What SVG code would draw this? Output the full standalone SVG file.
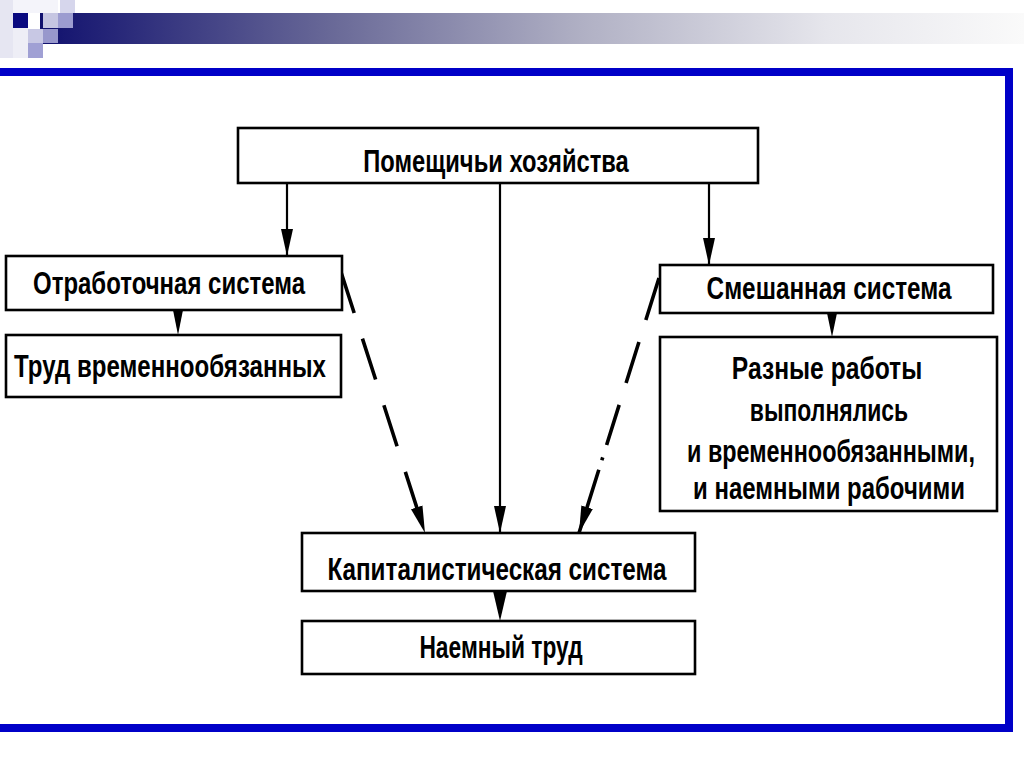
<svg xmlns="http://www.w3.org/2000/svg" width="1024" height="767" viewBox="0 0 1024 767">
<style>
.box{fill:#fff;stroke:#000;stroke-width:2.6}
.t{font-family:"Liberation Sans",Arial,sans-serif;font-size:32px;font-weight:bold;fill:#000;text-anchor:middle}
.c{stroke:#000;stroke-width:2.2;fill:none}
.d{stroke:#000;stroke-width:3.6;fill:none}
.h{fill:#000}
</style>
<defs>
<linearGradient id="bar" x1="0" y1="0" x2="1" y2="0">
<stop offset="0" stop-color="#10106e"/>
<stop offset="0.3" stop-color="#6a6a98"/>
<stop offset="0.55" stop-color="#b0b0c4"/>
<stop offset="0.8" stop-color="#e6e6ec"/>
<stop offset="1" stop-color="#fafafa"/>
</linearGradient>
<marker id="ah" markerUnits="userSpaceOnUse" markerWidth="28" markerHeight="14" refX="27" refY="7" orient="auto">
<path d="M0,1 L27,7 L0,13 z" fill="#000"/>
</marker>
</defs>
<rect width="1024" height="767" fill="#fff"/>
<g id="decor">
<rect x="40" y="13" width="984" height="31" fill="url(#bar)"/>
<rect x="0" y="0" width="13" height="58" fill="#e6e6f2"/>
<rect x="13" y="0" width="45" height="13" fill="#f4f4fa"/>
<rect x="13" y="13" width="15" height="15" fill="#0a0a80"/>
<rect x="43" y="13" width="15" height="15" fill="#c6c6e2"/>
<rect x="58" y="13" width="15" height="15" fill="#9c9cd0"/>
<rect x="60" y="0" width="15" height="13" fill="#d6d6ec"/>
<rect x="28" y="29" width="15" height="14" fill="#c8c8e4"/>
<rect x="43" y="29" width="15" height="14" fill="#9898cc"/>
<rect x="28" y="43" width="15" height="15" fill="#a0a0d4"/>
<rect x="13" y="28" width="15" height="30" fill="#eeeef6"/>
</g>
<path id="frame" d="M0,72 H1009 V728 H0" fill="none" stroke="#0000c8" stroke-width="8"/>
<g id="connectors">
<line class="c" x1="287" y1="184" x2="287" y2="256" marker-end="url(#ah)"/>
<line class="c" x1="709" y1="184" x2="709" y2="265" marker-end="url(#ah)"/>
<line class="c" x1="500" y1="184" x2="500" y2="533" marker-end="url(#ah)"/>
<line class="d" x1="341" y1="272" x2="425" y2="533" stroke-dasharray="43 27" marker-end="url(#ah)"/>
<line class="d" x1="659" y1="278" x2="579" y2="533" stroke-dasharray="44 23 43 23 42 13 3 10 200" marker-end="url(#ah)"/>
<polygon class="h" points="173,310 183,310 178,335"/>
<polygon class="h" points="827,313 837,313 832,337"/>
<polygon class="h" points="493,591 507,591 500,621"/>
</g>
<g id="n1">
<rect class="box" x="238" y="128" width="520" height="55"/>
<text class="t" transform="translate(496,172) scale(0.8,1)" textLength="332" lengthAdjust="spacingAndGlyphs">Помещичьи хозяйства</text>
</g>
<g id="n2">
<rect class="box" x="6" y="256" width="336" height="54"/>
<text class="t" transform="translate(169,294) scale(0.8,1)" textLength="340" lengthAdjust="spacingAndGlyphs">Отработочная система</text>
</g>
<g id="n3">
<rect class="box" x="6" y="335" width="335" height="62"/>
<text class="t" transform="translate(170,377) scale(0.8,1)" textLength="390" lengthAdjust="spacingAndGlyphs">Труд временнообязанных</text>
</g>
<g id="n4">
<rect class="box" x="660" y="265" width="333" height="48"/>
<text class="t" transform="translate(829,299) scale(0.8,1)" textLength="306" lengthAdjust="spacingAndGlyphs">Смешанная система</text>
</g>
<g id="n5">
<rect class="box" x="660" y="337" width="337" height="174"/>
<text class="t" transform="translate(827,379) scale(0.8,1)" textLength="238" lengthAdjust="spacingAndGlyphs">Разные работы</text>
<text class="t" transform="translate(829,421) scale(0.8,1)" textLength="198" lengthAdjust="spacingAndGlyphs">выполнялись</text>
<text class="t" transform="translate(831,462) scale(0.8,1)" textLength="360" lengthAdjust="spacingAndGlyphs">и временнообязанными,</text>
<text class="t" transform="translate(829,499) scale(0.8,1)" textLength="340" lengthAdjust="spacingAndGlyphs">и наемными рабочими</text>
</g>
<g id="n6">
<rect class="box" x="302" y="533" width="393" height="58"/>
<text class="t" transform="translate(497,580) scale(0.8,1)" textLength="424" lengthAdjust="spacingAndGlyphs">Капиталистическая система</text>
</g>
<g id="n7">
<rect class="box" x="302" y="621" width="393" height="53"/>
<text class="t" transform="translate(501,658) scale(0.8,1)" textLength="204" lengthAdjust="spacingAndGlyphs">Наемный труд</text>
</g>
</svg>
